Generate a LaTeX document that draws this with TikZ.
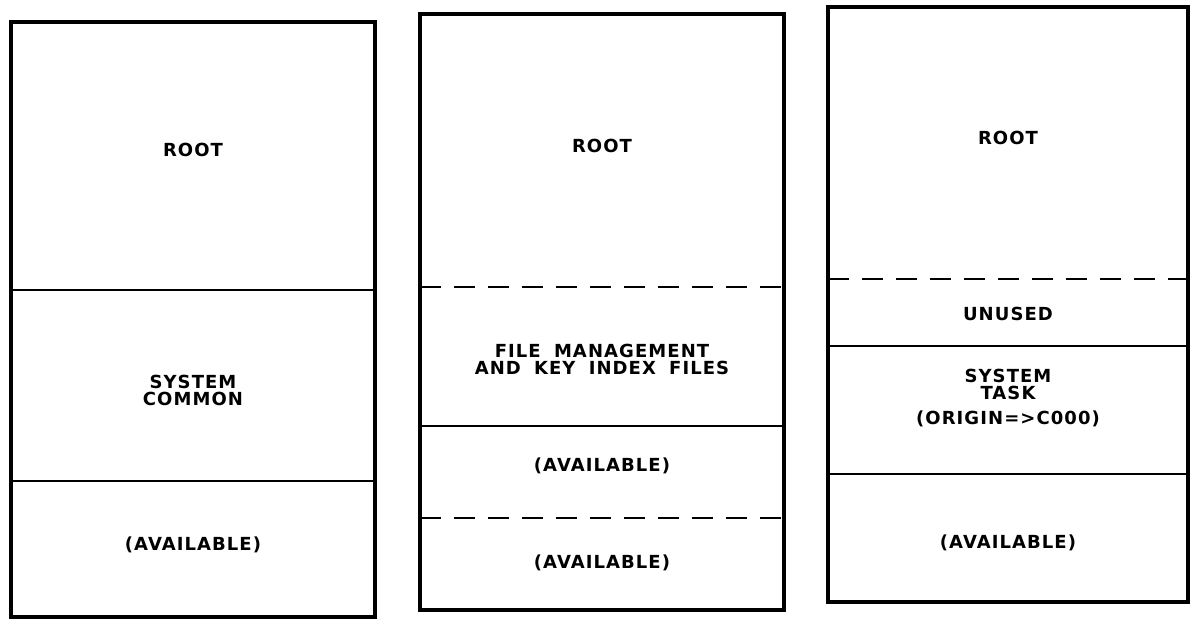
\documentclass[tikz,border=0pt]{standalone}
\usepackage{fontspec}
\newfontfamily\mapfont[LetterSpace=6, WordSpace=1.8]{DejaVu Sans}

\tikzset{
    region/.style={font=\mapfont\bfseries\fontsize{18}{17}\selectfont, align=center},
    outline/.style={line width=4.5pt},
    split/.style={line width=2.5pt},
    splitdash/.style={line width=2.5pt, dash pattern=on 21pt off 13pt},
}

\begin{document}
\begin{tikzpicture}[x=1pt, y=-1pt]
    \useasboundingbox (0,0) rectangle (1192,624);

    % First map: root and system common
    \draw[outline] (11,22) rectangle (375,617);
    \draw[split] (11,290) -- (375,290);
    \draw[split] (11,481) -- (375,481);
    \node[region] (rootA) at (193,150) {ROOT};
    \node[region] (common) at (193,390) {SYSTEM\\COMMON};
    \node[region] (freeA) at (193,545) {(AVAILABLE)};

    % Second map: file management overlay
    \draw[outline] (420,14) rectangle (784,610);
    \draw[splitdash] (420,287) -- (784,287);
    \draw[split] (420,426) -- (784,426);
    \draw[splitdash] (420,518) -- (784,518);
    \node[region] (rootB) at (602,146) {ROOT};
    \node[region] (files) at (602,359) {FILE MANAGEMENT\\AND KEY INDEX FILES};
    \node[region] (freeB) at (602,466) {(AVAILABLE)};
    \node[region] (freeC) at (602,563) {(AVAILABLE)};

    % Third map: system task at >C000
    \draw[outline] (828,7) rectangle (1188,602);
    \draw[splitdash] (828,279) -- (1188,279);
    \draw[split] (828,346) -- (1188,346);
    \draw[split] (828,474) -- (1188,474);
    \node[region] (rootC) at (1008,138) {ROOT};
    \node[region] (unused) at (1008,314) {UNUSED};
    \node[region] (task) at (1008,398) {SYSTEM\\TASK\\[8pt](ORIGIN=>C000)};
    \node[region] (freeD) at (1008,543) {(AVAILABLE)};

\end{tikzpicture}
\end{document}
